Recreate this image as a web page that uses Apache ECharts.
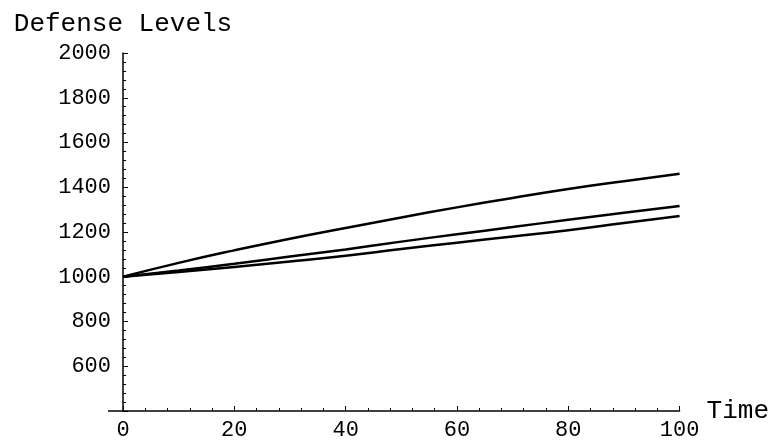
<!DOCTYPE html>
<html>
<head>
<meta charset="utf-8">
<script src="https://cdn.jsdelivr.net/npm/echarts@6/dist/echarts.min.js"></script>
<style>
  html, body { margin: 0; padding: 0; background: #fff; }
  #main { width: 772px; height: 441px; }
</style>
</head>
<body>
<div id="main"></div>
<script>
// time points and the three defense level curves
const times = [0, 10, 20, 30, 40, 50, 60, 70, 80, 90, 100];
const upper = [1000, 1062, 1118, 1170, 1218, 1265, 1310, 1352, 1392, 1427, 1460];
const middle = [1000, 1028, 1058, 1090, 1122, 1157, 1190, 1222, 1255, 1286, 1316];
const lower = [1000, 1021, 1044, 1068, 1094, 1124, 1152, 1180, 1208, 1240, 1271];
const yTicks = [600, 800, 1000, 1200, 1400, 1600, 1800, 2000];

const chartDom = document.getElementById('main');
const myChart = echarts.init(chartDom);

const font = 'Liberation Mono, DejaVu Sans Mono, monospace';
const pairs = arr => times.map((t, i) => [t, arr[i]]);
const line = arr => ({
  type: 'line',
  data: pairs(arr),
  smooth: true,
  showSymbol: false,
  lineStyle: { color: '#000', width: 2.5 }
});

const option = {
  animation: false,
  backgroundColor: '#fff',
  grid: { left: 123, right: 92, top: 53, bottom: 30 },
  xAxis: {
    type: 'value',
    min: 0, max: 100, interval: 20,
    name: 'Time',
    nameLocation: 'end',
    nameGap: 27,
    nameTextStyle: { fontFamily: font, fontSize: 26, color: '#000', verticalAlign: 'middle', padding: [4, 0, 0, 0] },
    axisLine: { lineStyle: { color: '#000', width: 1.5 } },
    axisTick: { inside: true, length: 5, lineStyle: { color: '#000' } },
    minorTick: { show: true, splitNumber: 5, length: 3, lineStyle: { color: '#000' } },
    axisLabel: { fontFamily: font, fontSize: 22, color: '#000', margin: 8 },
    splitLine: { show: false }
  },
  yAxis: {
    type: 'value',
    min: 400, max: 2000, interval: 200,
    name: 'Defense Levels',
    nameLocation: 'end',
    nameGap: 16,
    nameTextStyle: { fontFamily: font, fontSize: 26, color: '#000' },
    axisLine: { show: true, lineStyle: { color: '#000', width: 1.5 } },
    axisTick: { inside: true, length: 5, lineStyle: { color: '#000' } },
    minorTick: { show: true, splitNumber: 5, length: 3, lineStyle: { color: '#000' } },
    axisLabel: {
      fontFamily: font, fontSize: 22, color: '#000', margin: 12,
      formatter: v => (yTicks.indexOf(v) >= 0 ? String(v) : '')
    },
    splitLine: { show: false }
  },
  graphic: [{
    type: 'line',
    shape: { x1: 108, y1: 411, x2: 124, y2: 411 },
    style: { stroke: '#000', lineWidth: 1.5 }
  }],
  series: [line(upper), line(middle), line(lower)]
};

option && myChart.setOption(option);
</script>
</body>
</html>
